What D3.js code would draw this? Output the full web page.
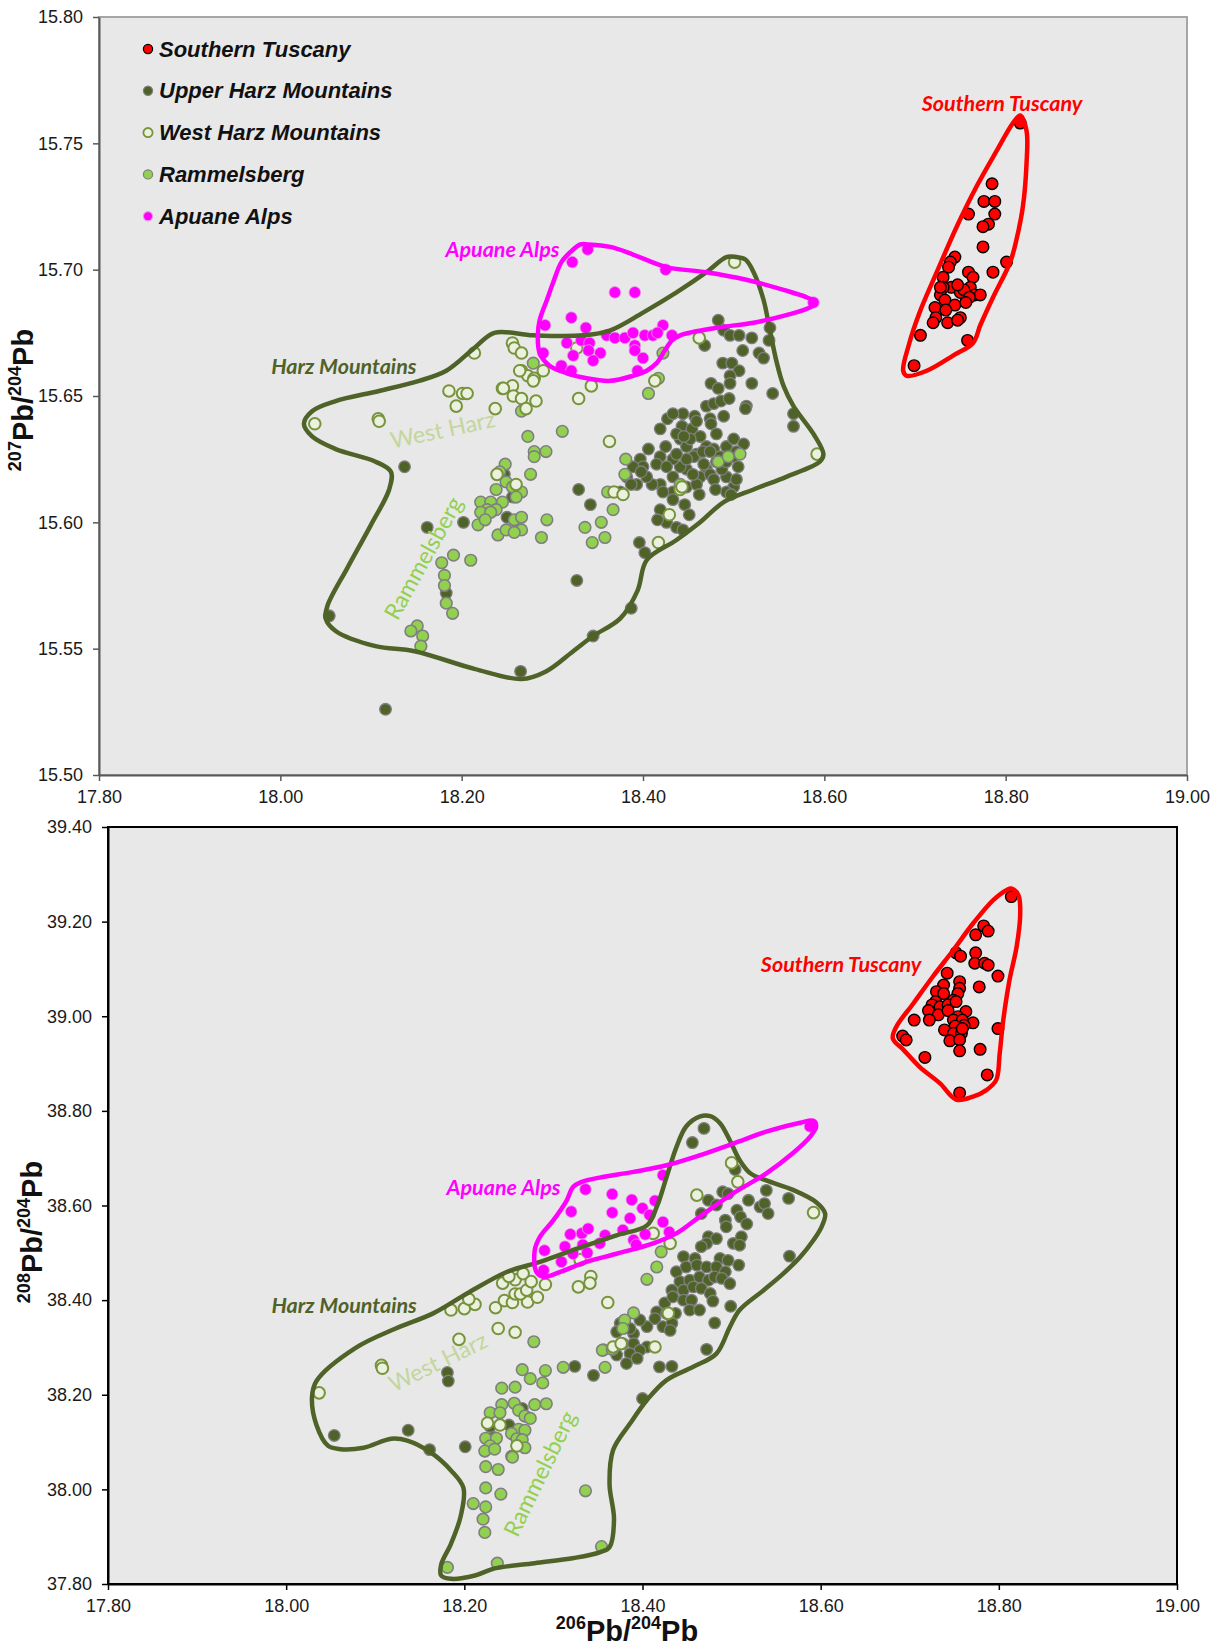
<!DOCTYPE html>
<html>
<head>
<meta charset="utf-8">
<script src="https://cdn.jsdelivr.net/npm/d3@7"></script>
<style>
  body { margin: 0; background: #fff; }
  text { font-family: "Liberation Sans", Arial, sans-serif; }
</style>
</head>
<body>
<svg id="chart" width="1223" height="1649"></svg>
<script>
// ---- axis ticks ----
var xTicks = [17.8, 18.0, 18.2, 18.4, 18.6, 18.8, 19.0];
var yTicks207 = [15.5, 15.55, 15.6, 15.65, 15.7, 15.75, 15.8];
var yTicks208 = [37.8, 38.0, 38.2, 38.4, 38.6, 38.8, 39.0, 39.2, 39.4];

var seriesNames = ["Southern Tuscany", "Upper Harz Mountains", "West Harz Mountains", "Rammelsberg", "Apuane Alps"];

// ---- 206Pb/204Pb vs 207Pb/204Pb ----
var tuscany207 = [[18.816,15.758],[18.785,15.734],[18.776,15.727],[18.788,15.727],[18.788,15.722],[18.759,15.722],[18.781,15.718],[18.775,15.717],[18.775,15.709],[18.801,15.703],[18.786,15.699],[18.744,15.705],[18.739,15.703],[18.737,15.701],[18.759,15.699],[18.764,15.697],[18.731,15.697],[18.740,15.693],[18.731,15.693],[18.753,15.691],[18.761,15.693],[18.766,15.690],[18.772,15.690],[18.757,15.688],[18.750,15.691],[18.728,15.690],[18.733,15.688],[18.744,15.686],[18.722,15.685],[18.734,15.684],[18.723,15.681],[18.720,15.679],[18.736,15.679],[18.750,15.681],[18.747,15.680],[18.758,15.672],[18.706,15.674],[18.699,15.662],[18.754,15.692],[18.760,15.689],[18.756,15.687],[18.747,15.694],[18.728,15.693]];

var upperHarz207 = [[18.483,15.680],[18.468,15.670],[18.489,15.676],[18.496,15.674],[18.506,15.674],[18.520,15.673],[18.540,15.677],[18.539,15.672],[18.510,15.668],[18.528,15.667],[18.533,15.665],[18.488,15.663],[18.498,15.663],[18.506,15.660],[18.496,15.658],[18.475,15.655],[18.483,15.653],[18.496,15.655],[18.520,15.655],[18.543,15.651],[18.470,15.646],[18.478,15.647],[18.486,15.648],[18.495,15.649],[18.514,15.646],[18.513,15.645],[18.474,15.641],[18.475,15.639],[18.481,15.635],[18.427,15.641],[18.444,15.643],[18.457,15.642],[18.443,15.638],[18.454,15.637],[18.463,15.634],[18.441,15.633],[18.448,15.630],[18.459,15.627],[18.470,15.630],[18.478,15.629],[18.492,15.630],[18.500,15.633],[18.511,15.631],[18.500,15.626],[18.481,15.624],[18.470,15.621],[18.463,15.618],[18.448,15.621],[18.441,15.622],[18.433,15.625],[18.419,15.626],[18.406,15.629],[18.397,15.625],[18.415,15.623],[18.426,15.622],[18.433,15.618],[18.419,15.615],[18.410,15.615],[18.400,15.622],[18.389,15.622],[18.382,15.618],[18.393,15.615],[18.404,15.618],[18.448,15.614],[18.459,15.615],[18.492,15.618],[18.500,15.614],[18.492,15.612],[18.474,15.619],[18.433,15.612],[18.422,15.612],[18.419,15.605],[18.426,15.600],[18.437,15.598],[18.444,15.597],[18.446,15.607],[18.329,15.613],[18.342,15.607],[18.566,15.643],[18.566,15.638],[18.396,15.592],[18.402,15.588],[18.456,15.626],[18.467,15.623],[18.485,15.626],[18.448,15.625],[18.437,15.627],[18.452,15.633],[18.466,15.628],[18.487,15.621],[18.455,15.619],[18.437,15.635],[18.478,15.617],[18.505,15.622],[18.462,15.611],[18.489,15.642],[18.425,15.630],[18.419,15.637],[18.433,15.643],[18.445,15.634],[18.459,15.640],[18.474,15.628],[18.492,15.624],[18.503,15.617],[18.398,15.620],[18.387,15.615],[18.375,15.612],[18.433,15.609],[18.451,15.603],[18.416,15.601],[18.480,15.613],[18.503,15.628],[18.497,15.611],[18.137,15.622],[18.202,15.600],[18.162,15.598],[18.250,15.602],[18.256,15.610],[18.327,15.577],[18.183,15.572],[18.054,15.563],[18.345,15.555],[18.265,15.541],[18.116,15.526],[18.247,15.619],[18.387,15.566]];

var westHarz207 = [[18.038,15.639],[18.108,15.641],[18.109,15.640],[18.186,15.652],[18.201,15.651],[18.206,15.651],[18.194,15.646],[18.214,15.667],[18.237,15.645],[18.256,15.671],[18.258,15.669],[18.266,15.667],[18.245,15.653],[18.256,15.654],[18.266,15.660],[18.273,15.658],[18.280,15.657],[18.257,15.650],[18.266,15.649],[18.282,15.648],[18.271,15.645],[18.329,15.649],[18.343,15.654],[18.290,15.660],[18.239,15.619],[18.260,15.615],[18.363,15.632],[18.368,15.612],[18.264,15.660],[18.279,15.656],[18.246,15.653],[18.413,15.656],[18.462,15.673],[18.501,15.703],[18.441,15.613],[18.443,15.614],[18.378,15.611],[18.429,15.603],[18.417,15.592],[18.592,15.627],[18.327,15.669]];

var ramm207 = [[18.279,15.663],[18.266,15.644],[18.311,15.636],[18.273,15.634],[18.280,15.628],[18.293,15.628],[18.280,15.626],[18.276,15.619],[18.248,15.623],[18.242,15.620],[18.249,15.616],[18.238,15.613],[18.256,15.614],[18.266,15.612],[18.221,15.608],[18.232,15.608],[18.245,15.608],[18.260,15.610],[18.228,15.605],[18.238,15.605],[18.221,15.604],[18.232,15.604],[18.218,15.599],[18.226,15.601],[18.240,15.595],[18.249,15.597],[18.258,15.601],[18.266,15.602],[18.266,15.597],[18.258,15.596],[18.294,15.601],[18.288,15.594],[18.210,15.585],[18.191,15.587],[18.178,15.584],[18.181,15.579],[18.181,15.575],[18.183,15.568],[18.190,15.564],[18.151,15.559],[18.144,15.557],[18.157,15.555],[18.155,15.551],[18.336,15.598],[18.354,15.600],[18.358,15.594],[18.344,15.592],[18.367,15.605],[18.361,15.612],[18.381,15.625],[18.380,15.619],[18.406,15.651],[18.417,15.657],[18.483,15.624],[18.494,15.626],[18.507,15.627],[18.441,15.615],[18.422,15.667]];

var apuane207 = [[18.339,15.708],[18.322,15.703],[18.425,15.700],[18.369,15.691],[18.391,15.691],[18.321,15.681],[18.337,15.677],[18.292,15.678],[18.360,15.674],[18.369,15.673],[18.380,15.673],[18.389,15.675],[18.402,15.674],[18.411,15.674],[18.422,15.678],[18.416,15.675],[18.432,15.674],[18.316,15.671],[18.332,15.672],[18.341,15.671],[18.340,15.668],[18.353,15.667],[18.323,15.666],[18.345,15.664],[18.391,15.670],[18.391,15.668],[18.400,15.665],[18.310,15.662],[18.321,15.660],[18.290,15.667],[18.394,15.660],[18.588,15.687]];

// field outlines
var harzField207 = [[18.236,15.675],[18.214,15.669],[18.183,15.660],[18.153,15.656],[18.109,15.652],[18.061,15.648],[18.035,15.644],[18.026,15.639],[18.035,15.634],[18.061,15.629],[18.105,15.624],[18.122,15.620],[18.120,15.613],[18.100,15.599],[18.074,15.582],[18.052,15.567],[18.050,15.562],[18.061,15.557],[18.105,15.551],[18.148,15.549],[18.214,15.542],[18.266,15.538],[18.293,15.541],[18.323,15.549],[18.345,15.555],[18.375,15.562],[18.394,15.573],[18.404,15.585],[18.437,15.593],[18.463,15.600],[18.489,15.608],[18.522,15.613],[18.558,15.618],[18.595,15.624],[18.599,15.627],[18.588,15.635],[18.566,15.646],[18.555,15.654],[18.547,15.664],[18.540,15.676],[18.533,15.688],[18.522,15.699],[18.513,15.704],[18.503,15.705],[18.492,15.705],[18.470,15.699],[18.437,15.691],[18.400,15.683],[18.364,15.676],[18.334,15.674],[18.279,15.674]];
var apuaneField207 = [[18.340,15.710],[18.364,15.709],[18.389,15.706],[18.426,15.701],[18.470,15.699],[18.514,15.696],[18.555,15.692],[18.581,15.689],[18.591,15.687],[18.584,15.685],[18.558,15.682],[18.522,15.679],[18.481,15.677],[18.441,15.674],[18.432,15.672],[18.424,15.668],[18.415,15.663],[18.404,15.660],[18.389,15.658],[18.364,15.656],[18.338,15.657],[18.316,15.659],[18.297,15.662],[18.286,15.667],[18.284,15.674],[18.286,15.680],[18.294,15.688],[18.301,15.695],[18.310,15.703],[18.320,15.707],[18.331,15.710]];
var tuscanyField207 = [[18.816,15.761],[18.823,15.755],[18.823,15.742],[18.819,15.725],[18.812,15.712],[18.805,15.703],[18.786,15.689],[18.772,15.678],[18.764,15.671],[18.742,15.666],[18.713,15.660],[18.691,15.658],[18.687,15.660],[18.693,15.670],[18.705,15.683],[18.724,15.699],[18.746,15.717],[18.768,15.733],[18.790,15.747],[18.808,15.758]];

// ---- 206Pb/204Pb vs 208Pb/204Pb ----
var tuscany208 = [[18.814,39.253],[18.783,39.191],[18.788,39.180],[18.774,39.172],[18.752,39.134],[18.757,39.127],[18.774,39.134],[18.773,39.112],[18.784,39.112],[18.788,39.108],[18.799,39.085],[18.742,39.091],[18.778,39.062],[18.738,39.066],[18.756,39.073],[18.756,39.059],[18.754,39.048],[18.730,39.052],[18.738,39.048],[18.749,39.034],[18.729,39.031],[18.725,39.024],[18.734,39.020],[18.743,39.024],[18.752,39.031],[18.721,39.012],[18.732,39.003],[18.743,39.012],[18.763,39.010],[18.754,38.999],[18.749,38.992],[18.759,38.992],[18.771,38.986],[18.761,38.981],[18.751,38.979],[18.739,38.971],[18.749,38.964],[18.758,38.964],[18.759,38.974],[18.745,38.948],[18.756,38.950],[18.705,38.992],[18.722,38.992],[18.692,38.958],[18.696,38.950],[18.799,38.974],[18.756,38.927],[18.779,38.930],[18.717,38.913],[18.787,38.876],[18.756,38.838]];

var upperHarz208 = [[18.469,38.763],[18.456,38.733],[18.504,38.676],[18.490,38.629],[18.496,38.625],[18.539,38.632],[18.564,38.615],[18.519,38.611],[18.474,38.611],[18.483,38.601],[18.532,38.597],[18.537,38.604],[18.541,38.583],[18.466,38.583],[18.493,38.569],[18.506,38.590],[18.510,38.576],[18.517,38.561],[18.494,38.555],[18.474,38.534],[18.483,38.530],[18.502,38.520],[18.511,38.534],[18.509,38.516],[18.472,38.520],[18.466,38.513],[18.446,38.492],[18.459,38.488],[18.487,38.488],[18.496,38.484],[18.508,38.474],[18.438,38.460],[18.449,38.470],[18.461,38.474],[18.472,38.470],[18.483,38.470],[18.493,38.460],[18.442,38.439],[18.453,38.442],[18.464,38.449],[18.474,38.442],[18.481,38.449],[18.489,38.446],[18.498,38.435],[18.433,38.421],[18.446,38.421],[18.457,38.428],[18.466,38.425],[18.476,38.414],[18.425,38.394],[18.434,38.407],[18.446,38.400],[18.455,38.400],[18.479,38.398],[18.499,38.387],[18.416,38.375],[18.427,38.372],[18.437,38.372],[18.453,38.379],[18.464,38.379],[18.481,38.352],[18.414,38.361],[18.405,38.344],[18.397,38.358],[18.423,38.344],[18.433,38.351],[18.431,38.336],[18.390,38.329],[18.386,38.340],[18.375,38.351],[18.371,38.333],[18.378,38.308],[18.390,38.308],[18.405,38.301],[18.397,38.294],[18.386,38.287],[18.382,38.266],[18.394,38.277],[18.419,38.259],[18.433,38.260],[18.400,38.192],[18.472,38.296],[18.565,38.493],[18.345,38.241],[18.324,38.260],[18.265,38.171],[18.161,38.084],[18.201,38.090],[18.137,38.125],[18.054,38.114],[18.181,38.247],[18.182,38.229],[18.250,38.136],[18.229,38.133],[18.233,38.110],[18.253,38.070],[18.371,38.284]];

var westHarz208 = [[18.037,38.204],[18.107,38.262],[18.108,38.256],[18.194,38.317],[18.185,38.379],[18.200,38.382],[18.212,38.391],[18.205,38.402],[18.235,38.384],[18.245,38.399],[18.254,38.395],[18.271,38.396],[18.257,38.413],[18.263,38.413],[18.270,38.421],[18.282,38.406],[18.243,38.436],[18.257,38.443],[18.250,38.450],[18.266,38.456],[18.275,38.439],[18.291,38.433],[18.238,38.340],[18.257,38.332],[18.226,38.140],[18.328,38.428],[18.342,38.450],[18.341,38.436],[18.330,38.485],[18.361,38.395],[18.259,38.092],[18.500,38.690],[18.507,38.650],[18.461,38.622],[18.412,38.541],[18.431,38.520],[18.429,38.372],[18.414,38.301],[18.367,38.301],[18.376,38.308],[18.592,38.585],[18.240,38.136]];

var ramm208 = [[18.278,38.312],[18.265,38.253],[18.291,38.251],[18.274,38.234],[18.288,38.225],[18.242,38.214],[18.257,38.216],[18.242,38.179],[18.256,38.182],[18.279,38.179],[18.292,38.181],[18.261,38.167],[18.268,38.155],[18.274,38.150],[18.229,38.162],[18.240,38.162],[18.261,38.127],[18.268,38.125],[18.253,38.118],[18.259,38.107],[18.265,38.105],[18.268,38.088],[18.224,38.108],[18.236,38.108],[18.229,38.092],[18.223,38.081],[18.234,38.085],[18.254,38.068],[18.224,38.048],[18.238,38.042],[18.224,38.003],[18.241,37.990],[18.210,37.970],[18.224,37.963],[18.221,37.937],[18.223,37.909],[18.336,37.997],[18.354,37.879],[18.237,37.844],[18.181,37.835],[18.311,38.258],[18.358,38.258],[18.367,38.297],[18.356,38.295],[18.390,38.373],[18.380,38.358],[18.378,38.340],[18.421,38.502],[18.416,38.470],[18.405,38.444],[18.355,38.294],[18.366,38.296]];

var apuane208 = [[18.336,38.634],[18.366,38.624],[18.388,38.612],[18.414,38.610],[18.320,38.587],[18.366,38.585],[18.400,38.594],[18.386,38.573],[18.408,38.580],[18.423,38.565],[18.319,38.539],[18.332,38.541],[18.339,38.551],[18.358,38.537],[18.378,38.548],[18.403,38.539],[18.430,38.544],[18.390,38.527],[18.352,38.520],[18.313,38.513],[18.333,38.517],[18.322,38.498],[18.338,38.500],[18.290,38.505],[18.309,38.481],[18.289,38.463],[18.393,38.517],[18.423,38.664],[18.588,38.767]];

var harzField208 = [[18.029,38.195],[18.034,38.229],[18.078,38.299],[18.123,38.340],[18.165,38.372],[18.203,38.414],[18.247,38.459],[18.285,38.481],[18.333,38.513],[18.371,38.537],[18.405,38.558],[18.416,38.597],[18.427,38.660],[18.438,38.723],[18.449,38.767],[18.464,38.788],[18.476,38.789],[18.487,38.774],[18.498,38.738],[18.509,38.696],[18.521,38.668],[18.539,38.653],[18.569,38.633],[18.595,38.607],[18.605,38.583],[18.601,38.555],[18.592,38.527],[18.577,38.491],[18.558,38.456],[18.536,38.421],[18.509,38.379],[18.498,38.343],[18.483,38.287],[18.457,38.259],[18.427,38.231],[18.405,38.189],[18.386,38.139],[18.367,38.083],[18.363,38.011],[18.368,37.937],[18.363,37.878],[18.352,37.867],[18.323,37.855],[18.279,37.844],[18.234,37.833],[18.212,37.818],[18.185,37.811],[18.174,37.818],[18.174,37.841],[18.185,37.885],[18.196,37.944],[18.199,38.003],[18.185,38.040],[18.163,38.077],[18.136,38.103],[18.118,38.107],[18.087,38.088],[18.061,38.085],[18.047,38.092],[18.034,38.136]];
var apuaneField208 = [[18.332,38.650],[18.352,38.659],[18.390,38.671],[18.427,38.685],[18.464,38.706],[18.502,38.731],[18.539,38.756],[18.577,38.775],[18.592,38.779],[18.595,38.767],[18.588,38.745],[18.569,38.711],[18.539,38.668],[18.502,38.626],[18.464,38.576],[18.438,38.541],[18.412,38.520],[18.371,38.498],[18.337,38.481],[18.307,38.459],[18.289,38.449],[18.281,38.459],[18.279,38.505],[18.285,38.534],[18.300,38.569],[18.315,38.611],[18.322,38.639]];
var tuscanyField208 = [[18.814,39.270],[18.822,39.256],[18.824,39.217],[18.820,39.147],[18.812,39.077],[18.805,38.992],[18.801,38.922],[18.797,38.865],[18.786,38.844],[18.771,38.830],[18.752,38.824],[18.734,38.858],[18.711,38.893],[18.693,38.929],[18.681,38.953],[18.685,38.978],[18.704,39.027],[18.726,39.084],[18.749,39.140],[18.771,39.196],[18.794,39.246],[18.809,39.267]];

// ---- styles ----
var markStyle = {
  "Southern Tuscany":     { fill: "#ff0000", stroke: "#000000", sw: 1.4 },
  "Upper Harz Mountains": { fill: "#4f6228", stroke: "#7f7f7f", sw: 1.3 },
  "West Harz Mountains":  { fill: "#ebf1de", stroke: "#77933c", sw: 2 },
  "Rammelsberg":          { fill: "#92d050", stroke: "#7f7f7f", sw: 1.6 },
  "Apuane Alps":          { fill: "#ff00ff", stroke: "#e0a0e0", sw: 0.8 }
};

var svg = d3.select("#chart");
var fmt = d3.format(".2f");
var outline = d3.line().curve(d3.curveCatmullRomClosed.alpha(0.5));

function drawPanel(p) {
  var x = d3.scaleLinear().domain([17.8, 19.0]).range([p.left, p.right]);
  var y = d3.scaleLinear().domain(p.yDomain).range([p.bottom, p.top]);
  var g = svg.append("g");

  g.append("rect")
    .attr("x", p.left).attr("y", p.top)
    .attr("width", p.right - p.left).attr("height", p.bottom - p.top)
    .attr("fill", "#e8e8e8")
    .attr("stroke", p.frame).attr("stroke-width", 2);

  var ax = g.append("g")
    .attr("transform", "translate(0," + p.bottom + ")")
    .call(d3.axisBottom(x).tickValues(xTicks).tickFormat(fmt).tickSize(6).tickSizeOuter(0).tickPadding(9));
  var ay = g.append("g")
    .attr("transform", "translate(" + p.left + ",0)")
    .call(d3.axisLeft(y).tickValues(p.yTicks).tickFormat(fmt).tickSize(6).tickSizeOuter(0).tickPadding(10));
  [ax, ay].forEach(function (a) {
    a.select(".domain").attr("stroke", p.axis).attr("stroke-width", 2);
    a.selectAll(".tick line").attr("stroke", p.axis).attr("stroke-width", 1.5);
    a.selectAll(".tick text").attr("font-size", 18).attr("fill", "#1a1a1a")
      .style("font-family", "'Liberation Sans', Arial, sans-serif");
  });

  var plot = g.append("g");
  p.series.forEach(function (s) {
    var st = markStyle[s.name];
    plot.append("g").selectAll("circle")
      .data(s.values)
      .enter().append("circle")
      .attr("cx", function (d) { return x(d[0]); })
      .attr("cy", function (d) { return y(d[1]); })
      .attr("r", 5.8)
      .attr("fill", st.fill)
      .attr("stroke", st.stroke)
      .attr("stroke-width", st.sw);
  });

  p.fields.forEach(function (f) {
    plot.append("path")
      .attr("d", outline(f.values.map(function (d) { return [x(d[0]), y(d[1])]; })))
      .attr("fill", "none")
      .attr("stroke", f.color)
      .attr("stroke-width", 4.5)
      .attr("stroke-linejoin", "round");
  });

  p.labels.forEach(function (l) {
    var px = x(l.at[0]), py = y(l.at[1]);
    g.append("text")
      .attr("transform", "translate(" + px + "," + py + ") rotate(" + (l.rot || 0) + ")")
      .attr("text-anchor", "middle")
      .attr("dominant-baseline", "central")
      .attr("fill", l.color)
      .attr("font-size", l.size)
      .attr("font-weight", l.italic ? "bold" : "normal")
      .attr("font-style", l.italic ? "italic" : "normal")
      .style("font-family", "Lato, 'Open Sans', sans-serif")
      .text(l.text);
  });
}

drawPanel({
  left: 99, right: 1187, top: 17, bottom: 775,
  yDomain: [15.5, 15.8], yTicks: yTicks207,
  frame: "#a6a6a6", axis: "#595959",
  series: [
    { name: "Upper Harz Mountains", values: upperHarz207 },
    { name: "Rammelsberg", values: ramm207 },
    { name: "West Harz Mountains", values: westHarz207 },
    { name: "Apuane Alps", values: apuane207 },
    { name: "Southern Tuscany", values: tuscany207 }
  ],
  fields: [
    { values: harzField207, color: "#4f6228" },
    { values: apuaneField207, color: "#ff00ff" },
    { values: tuscanyField207, color: "#ff0000" }
  ],
  labels: [
    { text: "Harz Mountains", at: [18.070, 15.662], color: "#4f6228", size: 21.5, italic: true },
    { text: "West Harz", at: [18.179, 15.637], color: "#c3d69b", size: 23, rot: -12 },
    { text: "Rammelsberg", at: [18.157, 15.586], color: "#92d050", size: 23, rot: -61 },
    { text: "Apuane Alps", at: [18.245, 15.708], color: "#ff00ff", size: 21.5, italic: true },
    { text: "Southern Tuscany", at: [18.796, 15.766], color: "#ff0000", size: 21.5, italic: true }
  ]
});

drawPanel({
  left: 108, right: 1177, top: 827, bottom: 1584,
  yDomain: [37.8, 39.4], yTicks: yTicks208,
  frame: "#000000", axis: "#000000",
  series: [
    { name: "Upper Harz Mountains", values: upperHarz208 },
    { name: "Rammelsberg", values: ramm208 },
    { name: "West Harz Mountains", values: westHarz208 },
    { name: "Apuane Alps", values: apuane208 },
    { name: "Southern Tuscany", values: tuscany208 }
  ],
  fields: [
    { values: harzField208, color: "#4f6228" },
    { values: apuaneField208, color: "#ff00ff" },
    { values: tuscanyField208, color: "#ff0000" }
  ],
  labels: [
    { text: "Harz Mountains", at: [18.065, 38.390], color: "#4f6228", size: 21.5, italic: true },
    { text: "West Harz", at: [18.170, 38.271], color: "#c3d69b", size: 23, rot: -26 },
    { text: "Rammelsberg", at: [18.284, 38.034], color: "#92d050", size: 23, rot: -64 },
    { text: "Apuane Alps", at: [18.244, 38.640], color: "#ff00ff", size: 21.5, italic: true },
    { text: "Southern Tuscany", at: [18.623, 39.110], color: "#ff0000", size: 21.5, italic: true }
  ]
});

// legend (top panel)
var legend = svg.append("g").attr("transform", "translate(148,49)");
seriesNames.forEach(function (name, i) {
  var st = markStyle[name];
  var row = legend.append("g").attr("transform", "translate(0," + (i * 41.8) + ")");
  row.append("circle").attr("r", 4.6)
    .attr("fill", st.fill).attr("stroke", name === "Southern Tuscany" ? "#000" : st.stroke)
    .attr("stroke-width", name === "West Harz Mountains" ? 1.8 : 1.2);
  row.append("text").attr("x", 11).attr("y", 7.5)
    .attr("font-size", 22).attr("font-weight", "bold").attr("font-style", "italic")
    .attr("fill", "#111").text(name);
});

// axis titles
function pbTitle(sel, top) {
  sel.append("tspan").attr("font-size", 18).attr("dy", -12).text(top);
  sel.append("tspan").attr("dy", 12).text("Pb/");
  sel.append("tspan").attr("font-size", 18).attr("dy", -12).text("204");
  sel.append("tspan").attr("dy", 12).text("Pb");
}
var t1 = svg.append("text").attr("transform", "translate(33,400) rotate(-90)")
  .attr("text-anchor", "middle").attr("font-size", 29).attr("font-weight", "bold").attr("fill", "#111");
pbTitle(t1, "207");
var t2 = svg.append("text").attr("transform", "translate(42,1232) rotate(-90)")
  .attr("text-anchor", "middle").attr("font-size", 29).attr("font-weight", "bold").attr("fill", "#111");
pbTitle(t2, "208");
var t3 = svg.append("text").attr("x", 627).attr("y", 1641)
  .attr("text-anchor", "middle").attr("font-size", 29).attr("font-weight", "bold").attr("fill", "#111");
pbTitle(t3, "206");
</script>
</body>
</html>
